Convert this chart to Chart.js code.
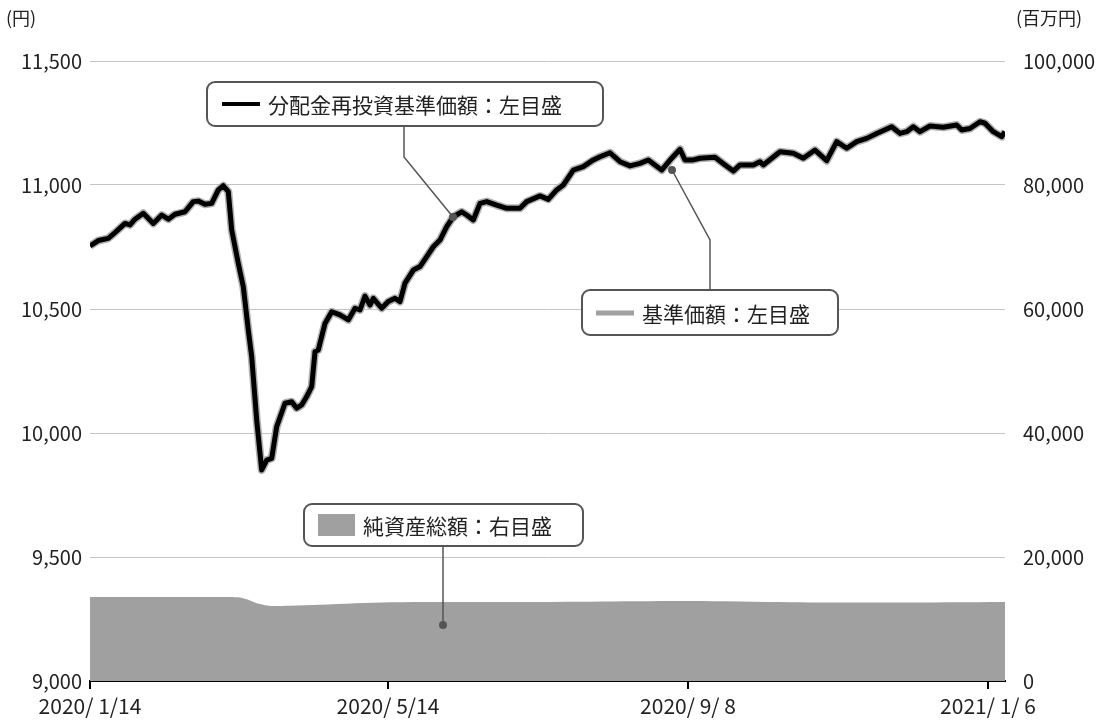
<!DOCTYPE html>
<html><head><meta charset="utf-8">
<script src="https://cdn.jsdelivr.net/npm/chart.js@4"></script>
<style>body{margin:0;background:#fff}#wrap{width:1105px;height:720px;position:relative}</style>
</head><body><div id="wrap"><canvas id="c"></canvas></div>
<script>
// ── Data (x = position along the date axis, 0 = 2020/1/14) ──
const navX = [0,8.3,18.3,25,35,40,45,53.3,63.3,71.7,78.3,85,95,103.3,108.3,115,121.7,128.3,133.3,138.3,141.7,148.3,153.3,158.3,161.7,166.7,171.7,176.7,181.7,186.7,195,201.7,206.7,211.7,216.7,221.7,225,228.3,235,241.7,250,258.3,265,270,275,280,283.3,291.7,298.3,305,310,
  315,323.3,330,336.7,343.3,350,356.7,363.3,371.7,376.7,383.3,390,396.7,406.7,416.7,430,436.7,450,458.3,466.7,473.3,483.3,493.3,503.3,510,520,530,540,550,558.3,571.7,581.7,590,595,603.3,
  610,625,635,643.3,650,663.3,670,673.3,690,703.3,713.3,725,736.7,746.7,756.7,766.7,776.7,786.7,801.7,810,816.7,823.3,830,840,853.3,866.7,871.7,880,890,895,903.3,911.7,915];
const navY = [10754,10776,10785,10808,10845,10839,10862,10886,10845,10879,10862,10882,10892,10933,10935,10922,10926,10980,10997,10973,10819,10684,10590,10415,10308,10052,9851,9891,9898,10026,10120,10126,10100,10113,10147,10187,10328,10335,10442,10489,10476,10456,10503,10496,10552,10516,10543,10503,10530,10543,10530,
  10604,10657,10671,10711,10751,10778,10832,10872,10892,10879,10859,10926,10933,10919,10906,10906,10933,10956,10942,10980,11000,11060,11074,11101,11114,11130,11094,11077,11087,11101,11060,11108,11144,11101,11101,
  11108,11112,11081,11056,11081,11081,11094,11081,11134,11128,11108,11141,11098,11175,11148,11175,11188,11208,11235,11208,11215,11235,11215,11238,11233,11242,11222,11228,11255,11249,11215,11195,11215];
const assetX = [0,140,150,160,170,180,200,230,300,400,500,600,700,800,915];
const assetY = [13550,13550,13450,13000,12400,12100,12150,12300,12700,12750,12800,12900,12700,12650,12750];
const xTicks = [0, 298, 598, 898];
const xLabels = ['2020/ 1/14', '2020/ 5/14', '2020/ 9/ 8', '2021/ 1/ 6'];
const leftTicks = [9000, 9500, 10000, 10500, 11000, 11500];
const rightTicks = [0, 20000, 40000, 60000, 80000, 100000];

const navPts = navX.map((x, i) => ({ x, y: navY[i] }));
const assetPts = assetX.map((x, i) => ({ x, y: assetY[i] }));

const FONT = '"Noto Sans CJK JP", "Noto Sans", sans-serif';

// ── Legend boxes & leaders ─────────────────────────────────
const notes = {
  id: 'notes',
  afterDraw(chart) {
    const c = chart.ctx;
    c.save();
    c.font = '18px ' + FONT;
    c.fillStyle = '#222';
    c.textBaseline = 'middle';
    c.fillText('(円)', 6, 18);
    c.fillText('(百万円)', 1016, 18);

    function leader(pts) {
      c.strokeStyle = '#555'; c.lineWidth = 1.5;
      c.beginPath(); c.moveTo(pts[0][0], pts[0][1]);
      pts.slice(1).forEach(p => c.lineTo(p[0], p[1])); c.stroke();
      const e = pts[pts.length - 1];
      c.fillStyle = '#555'; c.beginPath(); c.arc(e[0], e[1], 4, 0, Math.PI * 2); c.fill();
    }
    function box(x, y, w, h) {
      c.fillStyle = '#fff'; c.strokeStyle = '#555'; c.lineWidth = 2;
      c.beginPath(); c.roundRect(x, y, w, h, 8); c.fill(); c.stroke();
    }
    leader([[404, 126], [404, 157], [453, 217]]);
    leader([[710, 290], [710, 240], [672, 170]]);
    leader([[443, 546], [443, 625]]);

    box(207, 82, 396, 44);
    c.strokeStyle = '#000'; c.lineWidth = 4;
    c.beginPath(); c.moveTo(222, 104); c.lineTo(260, 104); c.stroke();
    c.fillStyle = '#222'; c.font = '21px ' + FONT;
    c.fillText('分配金再投資基準価額：左目盛', 268, 105);

    box(582, 290, 256, 45);
    c.strokeStyle = '#a0a0a0'; c.lineWidth = 5;
    c.beginPath(); c.moveTo(596, 313); c.lineTo(634, 313); c.stroke();
    c.fillStyle = '#222';
    c.fillText('基準価額：左目盛', 642, 314);

    box(304, 504, 279, 42);
    c.fillStyle = '#a0a0a0'; c.fillRect(318, 514, 37, 22);
    c.fillStyle = '#222';
    c.fillText('純資産総額：右目盛', 363, 526);
    c.restore();
  }
};

new Chart(document.getElementById('c'), {
  type: 'line',
  data: {
    datasets: [
      { data: navPts, yAxisID: 'y', borderColor: '#000', borderWidth: 5, borderJoinStyle: 'round', pointRadius: 0, tension: 0, order: 1 },
      { data: navPts, yAxisID: 'y', borderColor: '#b0b0b0', borderWidth: 8, borderJoinStyle: 'round', pointRadius: 0, tension: 0, order: 2 },
      { data: assetPts, yAxisID: 'y1', borderWidth: 0, backgroundColor: '#a0a0a0', fill: 'origin', pointRadius: 0, tension: 0.3, order: 3 },
    ],
  },
  options: {
    responsive: true, maintainAspectRatio: false, animation: false,
    layout: { padding: { top: 61, left: 0, right: 0, bottom: 0 } },
    plugins: { legend: { display: false }, tooltip: { enabled: false } },
    scales: {
      x: {
        type: 'linear', min: 0, max: 915,
        afterBuildTicks: s => { s.ticks = xTicks.map(v => ({ value: v })); },
        afterFit: s => { s.height = 39; },
        ticks: { callback: (v) => xLabels[xTicks.indexOf(v)], color: '#222', font: { family: FONT, size: 21 }, padding: 4, maxRotation: 0 },
        grid: { drawOnChartArea: false, color: '#000', lineWidth: 2, tickLength: 8 },
        border: { color: '#000', width: 2 },
      },
      y: {
        position: 'left', min: 9000, max: 11500,
        afterBuildTicks: s => { s.ticks = leftTicks.map(v => ({ value: v })); },
        afterFit: s => { s.width = 90; },
        ticks: { callback: v => v.toLocaleString('en-US'), color: '#222', font: { family: FONT, size: 20 }, padding: 8 },
        grid: { color: '#c4c4c4', drawTicks: false },
        border: { display: false },
      },
      y1: {
        position: 'right', min: 0, max: 100000,
        afterBuildTicks: s => { s.ticks = rightTicks.map(v => ({ value: v })); },
        afterFit: s => { s.width = 100; },
        ticks: { callback: v => v.toLocaleString('en-US'), color: '#222', font: { family: FONT, size: 20 }, padding: 10 },
        grid: { display: false },
        border: { display: false },
      },
    },
  },
  plugins: [notes],
});
</script></body></html>
